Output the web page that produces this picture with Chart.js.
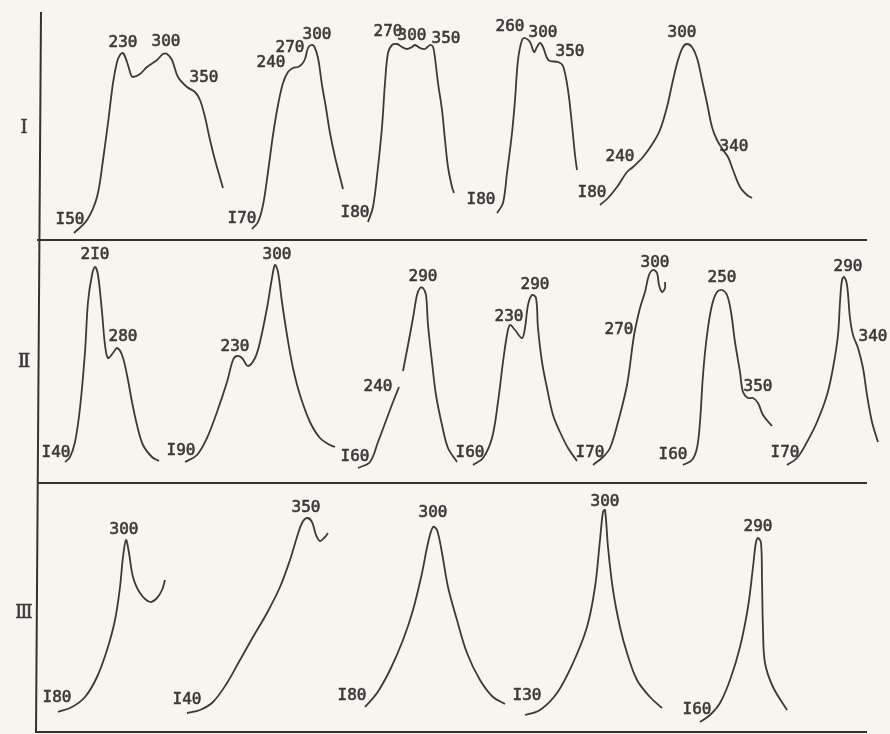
<!DOCTYPE html>
<html>
<head>
<meta charset="utf-8">
<script src="https://cdn.jsdelivr.net/npm/chart.js@4/dist/chart.umd.min.js"></script>
<style>
  html, body { margin: 0; padding: 0; background: #f7f5ee; }
  #wrap { position: relative; width: 890px; height: 734px; }
  canvas { display: block; }
</style>
</head>
<body>
<div id="wrap"><canvas id="glow" width="890" height="734"></canvas></div>
<script>
// Glow curves: each pair is [position along the row, relative intensity above the row baseline]
const rowI_150 = [[74,7],[87,20],[97,43],[103,80],[108,117],[113,157],[117,178],[120,185],[123,187],[127,178],[131,165],[133,163],[140,166],[147,173],[157,180],[163,186],[167,186],[172,180],[178,163],[187,153],[195,148],[200,140],[205,123],[210,100],[215,80],[223,52]];
const rowI_170 = [[252,11],[258,18],[263,35],[268,68],[273,105],[278,135],[283,157],[288,168],[293,172],[298,173],[302,176],[305,181],[308,192],[311,195],[314,194],[318,182],[322,155],[326,132],[330,107],[335,83],[340,63],[343,51]];
const rowI_180a = [[368,18],[373,33],[378,73],[382,113],[385,157],[388,187],[392,195],[397,196],[402,193],[407,191],[412,193],[415,195],[420,192],[425,191],[430,195],[433,193],[435,182],[438,157],[442,130],[445,100],[448,73],[452,53],[454,47]];
const rowI_180b = [[497,27],[503,37],[507,67],[512,107],[515,140],[518,180],[522,200],[525,202],[530,198],[534,188],[537,193],[540,197],[543,193],[547,182],[550,179],[558,178],[563,174],[568,150],[572,115],[575,85],[577,70]];
const rowI_180c = [[600,35],[608,42],[617,53],[627,68],[633,73],[643,83],[653,97],[660,110],[667,133],[673,160],[678,180],[683,193],[687,196],[692,193],[697,182],[702,160],[707,137],[712,113],[717,100],[723,90],[728,83],[733,70],[740,53],[747,45],[752,42]];

const rowII_140 = [[65,21],[70,26],[75,41],[80,75],[85,131],[88,181],[92,208],[95,216],[98,208],[102,171],[105,138],[108,125],[113,130],[117,135],[122,128],[127,108],[132,81],[137,58],[143,38],[152,26],[159,22]];
const rowII_190 = [[185,21],[197,28],[207,45],[217,71],[227,101],[233,123],[237,127],[242,125],[248,117],[255,125],[260,141],[267,175],[272,205],[275,218],[278,211],[282,181],[287,148],[293,115],[300,88],[310,61],[320,45],[330,38],[335,36]];
const rowII_160a = [[358,15],[370,21],[378,41],[387,65],[393,81],[399,96],null,[403,112],[408,138],[413,165],[417,188],[420,195],[423,195],[426,188],[428,158],[432,121],[436,88],[442,58],[448,35],[457,21]];
const rowII_160b = [[473,18],[483,25],[492,45],[498,81],[503,121],[507,148],[510,158],[515,153],[522,145],[525,155],[528,178],[532,188],[536,185],[538,155],[542,121],[547,95],[553,68],[560,51],[568,35],[577,22]];
const rowII_170a = [[593,18],[603,26],[610,35],[618,61],[627,98],[633,141],[635,153],[640,175],[645,191],[649,208],[653,213],[657,210],[659,198],[662,191],[665,195],[665,201]];
const rowII_160c = [[683,18],[692,23],[697,35],[700,61],[703,108],[707,148],[712,178],[717,191],[722,193],[727,188],[731,171],[735,141],[740,111],[743,91],[748,85],[753,85],[758,80],[763,68],[772,57]];
const rowII_170b = [[787,18],[797,25],[807,41],[817,61],[827,88],[833,115],[838,148],[840,181],[842,203],[844,206],[847,198],[850,165],[853,148],[858,135],[863,115],[867,88],[872,61],[878,41]];

const rowIII_180a = [[58,20],[72,25],[85,35],[97,55],[107,82],[115,112],[120,145],[123,175],[126,192],[129,179],[133,155],[140,139],[150,130],[157,134],[162,142],[165,152]];
const rowIII_140 = [[187,19],[200,22],[213,30],[227,49],[240,72],[253,95],[267,119],[280,145],[290,172],[297,195],[302,209],[307,214],[312,210],[316,197],[320,191],[325,195],[328,199]];
const rowIII_180b = [[365,25],[377,39],[390,62],[403,92],[413,122],[422,159],[428,189],[433,205],[437,202],[442,179],[448,145],[457,112],[467,79],[480,52],[493,35],[505,28]];
const rowIII_130 = [[525,17],[540,22],[557,39],[573,69],[587,105],[595,145],[600,192],[603,220],[605,222],[608,185],[613,142],[620,105],[627,79],[637,52],[650,35],[662,24]];
const rowIII_160 = [[700,10],[710,17],[720,29],[730,52],[740,85],[748,125],[753,165],[756,190],[758,194],[761,189],[762,152],[763,102],[765,69],[773,45],[787,22]];

// Temperature marks: [position along the row, relative intensity, text]
const rowI_labels = [[70,20,'I50'],[123,197,'230'],[166,198,'300'],[204,162,'350'],
  [242,21,'I70'],[271,177,'240'],[290,192,'270'],[317,205,'300'],
  [355,27,'I80'],[388,208,'270'],[412,204,'300'],[446,201,'350'],
  [481,40,'I80'],[510,213,'260'],[543,207,'300'],[570,188,'350'],
  [592,47,'I80'],[620,83,'240'],[682,207,'300'],[734,93,'340']];
const rowII_labels = [[56,30,'I40'],[95,228,'2I0'],[123,146,'280'],
  [181,32,'I90'],[235,136,'230'],[277,228,'300'],
  [355,26,'I60'],[378,96,'240'],[423,206,'290'],
  [470,30,'I60'],[509,166,'230'],[535,198,'290'],
  [590,30,'I70'],[619,153,'270'],[655,220,'300'],
  [673,28,'I60'],[722,205,'250'],[758,96,'350'],
  [785,30,'I70'],[848,216,'290'],[873,146,'340']];
const rowIII_labels = [[57,34,'I80'],[124,202,'300'],
  [187,32,'I40'],[306,224,'350'],
  [352,36,'I80'],[433,219,'300'],
  [527,36,'I30'],[605,230,'300'],
  [697,22,'I60'],[758,205,'290']];

const rowNames = ['Ⅰ', 'Ⅱ', 'Ⅲ'];

// Baseline of each row on the shared vertical scale, plus where the row name sits
const ROWS = [
  { base: 494, curves: [rowI_150, rowI_170, rowI_180a, rowI_180b, rowI_180c], labels: rowI_labels, nameAt: 112 },
  { base: 251, curves: [rowII_140, rowII_190, rowII_160a, rowII_160b, rowII_170a, rowII_160c, rowII_170b], labels: rowII_labels, nameAt: 121 },
  { base: 2,   curves: [rowIII_180a, rowIII_140, rowIII_180b, rowIII_130, rowIII_160], labels: rowIII_labels, nameAt: 119 }
];

const INK = '#3a3a3a';

const datasets = [];
ROWS.forEach(row => {
  row.curves.forEach(curve => {
    datasets.push({
      data: curve.map(p => p ? { x: p[0], y: row.base + p[1] } : { x: null, y: null }),
      borderColor: INK,
      borderWidth: 1.8,
      pointRadius: 0,
      fill: false,
      tension: 0.35,
      spanGaps: false,
      clip: false
    });
  });
});

// Frame lines, row names and temperature marks
const framePlugin = {
  id: 'frame',
  afterDatasetsDraw(chart) {
    const { ctx, scales: { x, y } } = chart;
    ctx.save();
    ctx.strokeStyle = '#333';
    ctx.lineWidth = 2;
    ctx.lineCap = 'butt';
    // left spine
    ctx.beginPath();
    ctx.moveTo(x.getPixelForValue(41), y.getPixelForValue(722));
    ctx.lineTo(x.getPixelForValue(36), y.getPixelForValue(1));
    ctx.stroke();
    // row baselines
    ROWS.forEach(row => {
      ctx.beginPath();
      ctx.moveTo(x.getPixelForValue(37), y.getPixelForValue(row.base));
      ctx.lineTo(x.getPixelForValue(867), y.getPixelForValue(row.base));
      ctx.stroke();
    });
    ctx.fillStyle = INK;
    ctx.strokeStyle = INK;
    ctx.lineWidth = 0.6;
    ctx.lineJoin = 'round';
    ctx.textAlign = 'center';
    ctx.textBaseline = 'middle';
    ROWS.forEach((row, i) => {
      ctx.font = '18px "DejaVu Serif"';
      const nx = x.getPixelForValue(24), ny = y.getPixelForValue(row.base + row.nameAt);
      ctx.fillText(rowNames[i], nx, ny);
      ctx.strokeText(rowNames[i], nx, ny);
      ctx.font = '16px "DejaVu Sans Mono"';
      row.labels.forEach(([px, v, t]) => {
        const lx = x.getPixelForValue(px), ly = y.getPixelForValue(row.base + v);
        ctx.fillText(t, lx, ly);
        ctx.strokeText(t, lx, ly);
      });
    });
    ctx.restore();
  }
};

new Chart(document.getElementById('glow'), {
  type: 'line',
  data: { datasets },
  options: {
    responsive: false,
    animation: false,
    devicePixelRatio: 1,
    layout: { padding: 0 },
    plugins: { legend: { display: false }, tooltip: { enabled: false } },
    scales: {
      x: { type: 'linear', min: 0, max: 890, display: false },
      y: { type: 'linear', min: 0, max: 734, display: false }
    }
  },
  plugins: [framePlugin]
});
</script>
</body>
</html>
